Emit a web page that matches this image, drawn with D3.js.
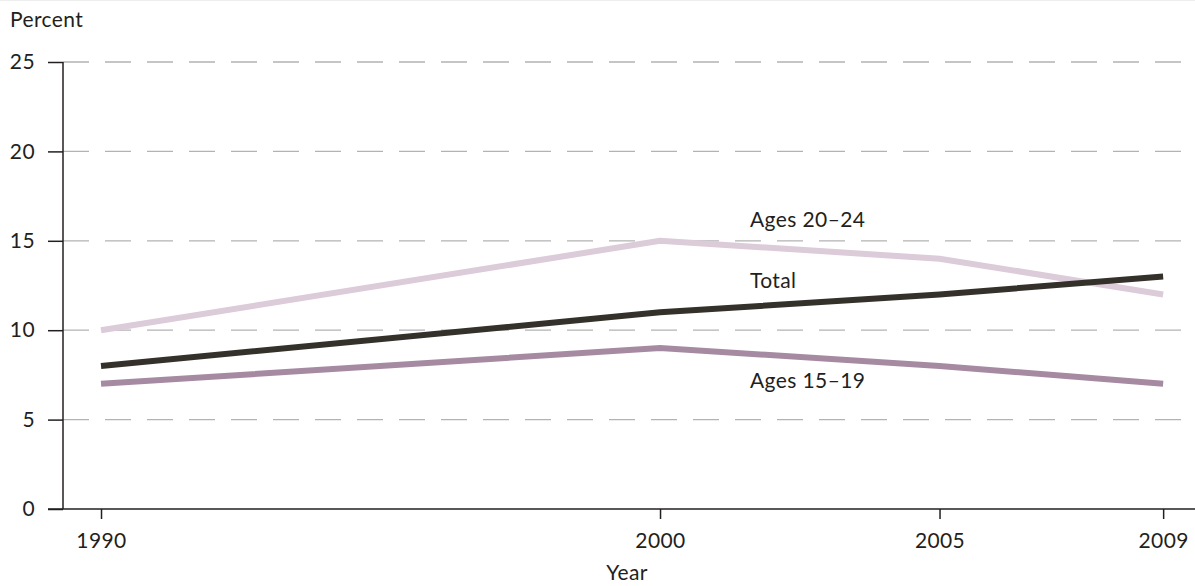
<!DOCTYPE html>
<html><head><meta charset="utf-8">
<script src="https://cdn.jsdelivr.net/npm/d3@7"></script>
<style>
html,body{margin:0;padding:0;background:#fff;}
text{font-family:"Lato","DejaVu Sans",sans-serif;fill:#231f20;letter-spacing:0.4px;}
</style></head>
<body><svg id="c" width="1195" height="586"></svg>
<script>
const years = [1990, 2000, 2005, 2009];
const total = [8, 11, 12, 13];
const ages2024 = [10, 15, 14, 12];
const ages1519 = [7, 9, 8, 7];
const yTicks = [0, 5, 10, 15, 20, 25];
const seriesNames = ["Ages 20–24", "Total", "Ages 15–19"];

const svg = d3.select("#c");
const mLeft = 63, mRight = 1195, mTop = 62, mBottom = 509;
const x = d3.scaleLinear().domain([1989.32, 2009.57]).range([mLeft, mRight]);
const y = d3.scaleLinear().domain([0, 25]).range([mBottom, mTop]);
const fs = "21px";

svg.append("line").attr("x1",0).attr("x2",1195).attr("y1",0.5).attr("y2",0.5).attr("stroke","#eeeeee");

// grid
svg.append("g").selectAll("line").data(yTicks.filter(d=>d>0)).join("line")
  .attr("x1", mLeft).attr("x2", mRight).attr("y1", d=>y(d)).attr("y2", d=>y(d))
  .attr("stroke", "#b3b3b3").attr("stroke-width", 1.3).attr("stroke-dasharray", "26,16");

// y axis
const ya = svg.append("g").attr("transform", `translate(${mLeft},0)`)
  .call(d3.axisLeft(y).tickValues(yTicks).tickSize(15).tickPadding(13).tickFormat(d3.format("d")));
ya.select(".domain").remove();
ya.append("line").attr("x1",0).attr("x2",0).attr("y1",mTop).attr("y2",mBottom).attr("stroke","#231f20").attr("stroke-width",1.5);
ya.selectAll(".tick line").attr("stroke","#231f20").attr("stroke-width",1.5);
ya.selectAll("text").style("font-size",fs).attr("fill","#231f20");

// x axis
const xa = svg.append("g").attr("transform", `translate(0,${mBottom})`)
  .call(d3.axisBottom(x).tickValues(years).tickSize(10).tickPadding(14).tickFormat(d3.format("d")));
xa.select(".domain").remove();
xa.append("line").attr("x1",48).attr("x2",mRight).attr("y1",0).attr("y2",0).attr("stroke","#231f20").attr("stroke-width",1.5);
xa.selectAll(".tick line").attr("stroke","#231f20").attr("stroke-width",1.5);
xa.selectAll("text").style("font-size",fs).attr("fill","#231f20");

const line = d3.line().x((d,i)=>x(years[i])).y(d=>y(d));
const series = [
  {name: seriesNames[0], values: ages2024, color: "#dccbd8"},
  {name: seriesNames[1], values: total, color: "#33312a"},
  {name: seriesNames[2], values: ages1519, color: "#a68aa2"}
];
svg.append("g").selectAll("path").data(series).join("path")
  .attr("d", d=>line(d.values)).attr("fill","none").attr("stroke", d=>d.color)
  .attr("stroke-width", 6).attr("stroke-linejoin","miter");

// labels
const labelPos = [227, 288, 388];
svg.append("g").selectAll("text").data(series).join("text")
  .attr("x", 750).attr("y", (d,i)=>labelPos[i]).style("font-size",fs).text(d=>d.name);

svg.append("text").attr("x", 10).attr("y", 27).style("font-size",fs).text("Percent");
svg.append("text").attr("x", 627).attr("y", 580).attr("text-anchor","middle").style("font-size",fs).text("Year");
</script></body></html>
